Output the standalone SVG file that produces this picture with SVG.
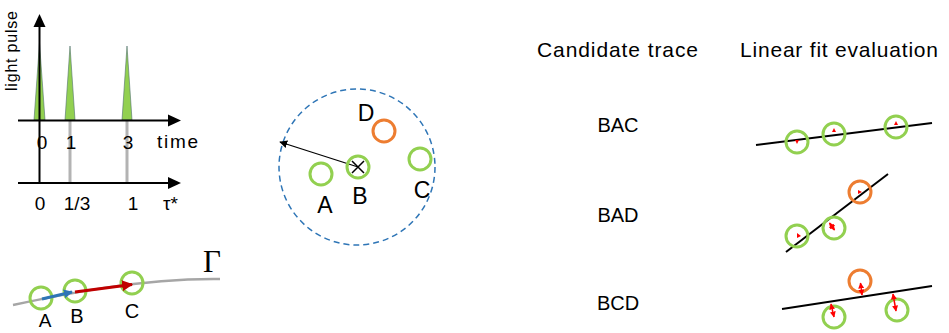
<svg xmlns="http://www.w3.org/2000/svg" width="949" height="333" viewBox="0 0 949 333">
<defs>
<style>
text{font-family:"Liberation Sans",Arial,sans-serif;fill:#000}
.g{fill:none;stroke:#92D050;stroke-width:3}
.o{fill:none;stroke:#ED7D31;stroke-width:3}
.ax{stroke:#000;stroke-width:2;fill:none}
.gr{stroke:#b3b3b3;stroke-width:3}
.pulse{fill:#92D050;stroke:#4f6f6f;stroke-width:0.6}
.fit{stroke:#000;stroke-width:2}
.rd{stroke:#f00;stroke-width:1.5;fill:none}
</style>
<marker id="ah" viewBox="0 0 10 10" refX="9" refY="5" markerWidth="8" markerHeight="8" markerUnits="userSpaceOnUse" orient="auto"><path d="M0,0L10,5L0,10z" fill="#000"/></marker>
<marker id="ab" viewBox="0 0 10 10" refX="9" refY="5" markerWidth="9" markerHeight="9" markerUnits="userSpaceOnUse" orient="auto"><path d="M0,0L10,5L0,10z" fill="#2E75B6"/></marker>
<marker id="ar" viewBox="0 0 10 10" refX="9" refY="5" markerWidth="11" markerHeight="11" markerUnits="userSpaceOnUse" orient="auto"><path d="M0,0L10,5L0,10z" fill="#C00000"/></marker>
<marker id="rr" viewBox="0 0 10 10" refX="9" refY="5" markerWidth="6" markerHeight="6" markerUnits="userSpaceOnUse" orient="auto-start-reverse"><path d="M0,0L10,5L0,10z" fill="#f00"/></marker>
</defs>

<g id="pulse-plot">
<line class="gr" x1="70" y1="120" x2="70" y2="183"/>
<line class="gr" x1="127" y1="120" x2="127" y2="183"/>
<path class="pulse" d="M34,120L39.5,43L45,120z"/>
<path class="pulse" d="M65,120L70,46L75,120z"/>
<path class="pulse" d="M122,120L127,46L132,120z"/>
<line class="ax" x1="39.5" y1="183" x2="39.5" y2="26"/>
<path d="M33.5,27L39.5,14L45.5,27z"/>
<line class="ax" x1="18" y1="120.5" x2="170" y2="120.5"/>
<path d="M168,114.5L181,120.5L168,126.5z"/>
<line class="ax" x1="18" y1="183" x2="170" y2="183"/>
<path d="M168,177L181,183L168,189z"/>
<text x="0" y="0" font-size="16" textLength="80" transform="translate(17,91) rotate(-90)">light pulse</text>
<text x="42" y="149" font-size="19" text-anchor="middle">0</text>
<text x="71" y="149" font-size="19" text-anchor="middle">1</text>
<text x="128" y="149" font-size="19" text-anchor="middle">3</text>
<text x="157" y="148" font-size="19" textLength="41">time</text>
<text x="40" y="210" font-size="19" text-anchor="middle">0</text>
<text x="77" y="210" font-size="19" text-anchor="middle">1/3</text>
<text x="133" y="210" font-size="19" text-anchor="middle">1</text>
<text x="163" y="210" font-size="19">τ*</text>
</g>

<g id="trajectory">
<path d="M13,305C60,295 140,278 220,279" fill="none" stroke="#a6a6a6" stroke-width="2.5"/>
<circle class="g" cx="41" cy="298" r="11"/>
<circle class="g" cx="75" cy="291" r="11"/>
<circle class="g" cx="132" cy="283" r="11"/>
<line x1="42" y1="299" x2="72" y2="292" stroke="#2E75B6" stroke-width="3" marker-end="url(#ab)"/>
<line x1="75" y1="292" x2="132" y2="284.5" stroke="#C00000" stroke-width="3" marker-end="url(#ar)"/>
<text x="45" y="327" font-size="19" text-anchor="middle">A</text>
<text x="77" y="323" font-size="20" text-anchor="middle">B</text>
<text x="132" y="318" font-size="20" text-anchor="middle">C</text>
<text x="203" y="272" font-size="31" style="font-family:'Liberation Serif',serif">Γ</text>
</g>

<g id="search-region">
<circle cx="357" cy="167" r="78" fill="none" stroke="#2E75B6" stroke-width="1.5" stroke-dasharray="6,4"/>
<line x1="358" y1="167" x2="280" y2="142" stroke="#000" stroke-width="1.3" marker-end="url(#ah)"/>
<circle class="g" cx="321" cy="174" r="11"/>
<circle class="g" cx="358" cy="167" r="11"/>
<path d="M352,161L364,173M364,161L352,173" stroke="#000" stroke-width="1.5"/>
<circle class="g" cx="420" cy="159" r="11"/>
<circle class="o" cx="384" cy="131" r="11"/>
<text x="366" y="121" font-size="23" text-anchor="middle">D</text>
<text x="325" y="213" font-size="23" text-anchor="middle">A</text>
<text x="360" y="204" font-size="23" text-anchor="middle">B</text>
<text x="422" y="198" font-size="23" text-anchor="middle">C</text>
</g>

<g id="headers">
<text x="537" y="57" font-size="21" textLength="161">Candidate trace</text>
<text x="740" y="57" font-size="21" textLength="198">Linear fit evaluation</text>
</g>

<g id="row-BAC">
<text x="618" y="132" font-size="20" text-anchor="middle">BAC</text>
<line class="fit" x1="756" y1="145" x2="932" y2="123"/>
<circle class="g" cx="797" cy="142" r="11"/>
<circle class="g" cx="834" cy="134" r="11"/>
<circle class="g" cx="896" cy="127" r="11"/>
<path d="M795,140l2,4l2,-4z M832,132l2,-4l2,4z M894,125l2,-4l2,4z" fill="#f00"/>
</g>

<g id="row-BAD">
<text x="618" y="222" font-size="20" text-anchor="middle">BAD</text>
<line class="fit" x1="786" y1="252" x2="888" y2="174"/>
<circle class="o" cx="860" cy="192" r="11"/>
<circle class="g" cx="834" cy="228" r="11"/>
<circle class="g" cx="797" cy="236" r="11"/>
<path d="M797,233l4,3l-4,2z M858,190l4,2l-4,2z" fill="#f00"/>
<line class="rd" x1="829.5" y1="223" x2="834.5" y2="230" marker-start="url(#rr)" marker-end="url(#rr)"/>
</g>

<g id="row-BCD">
<text x="618" y="310" font-size="20" text-anchor="middle">BCD</text>
<line class="fit" x1="782" y1="309" x2="932" y2="286"/>
<circle class="o" cx="860" cy="281" r="11"/>
<circle class="g" cx="834" cy="317" r="11"/>
<circle class="g" cx="897" cy="310" r="11"/>
<line class="rd" x1="860.5" y1="283" x2="862" y2="295" marker-start="url(#rr)" marker-end="url(#rr)"/>
<line class="rd" x1="831" y1="304" x2="834" y2="317" marker-start="url(#rr)" marker-end="url(#rr)"/>
<line class="rd" x1="893" y1="294" x2="896" y2="311" marker-start="url(#rr)" marker-end="url(#rr)"/>
</g>
</svg>
